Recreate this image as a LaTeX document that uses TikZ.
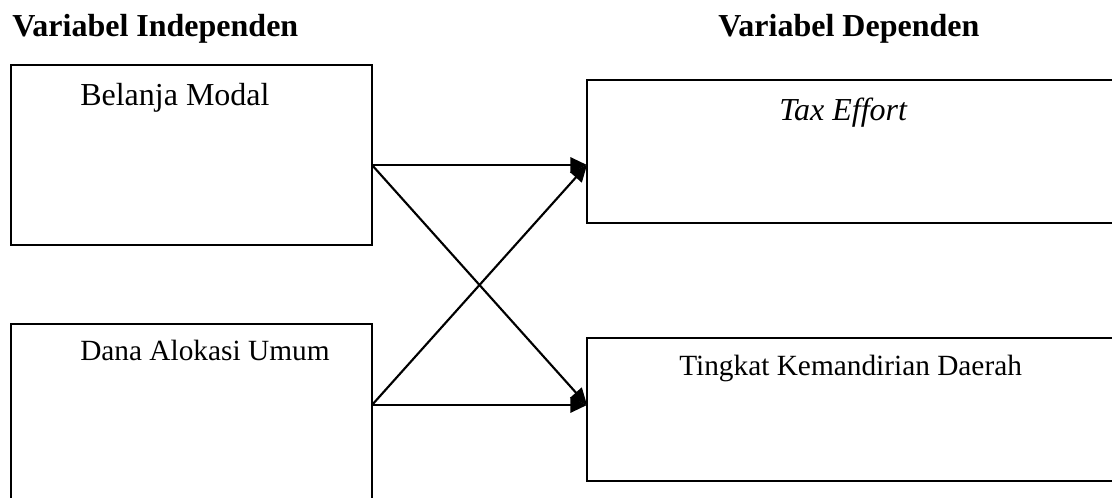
\documentclass[tikz,border=0pt]{standalone}
\usepackage{fontspec}
\setmainfont{Liberation Serif}
\usetikzlibrary{arrows.meta}
\begin{document}
\begin{tikzpicture}[x=0.75pt,y=-0.75pt,
  varbox/.style={draw,line width=1.5pt,inner sep=0pt,outer sep=0pt,anchor=north west},
  heading/.style={anchor=base west,inner sep=0pt,font=\fontsize{24}{28}\selectfont\bfseries},
  boxtext/.style={anchor=base west,inner sep=0pt,font=\fontsize{24}{28}\selectfont},
  smalltext/.style={anchor=base west,inner sep=0pt,font=\fontsize{22}{26}\selectfont},
  link/.style={line width=1.6pt,-{Triangle[length=12.5pt,width=11.5pt]}}]
\useasboundingbox (0,0) rectangle (1112,498);
\clip (0,0) rectangle (1112,498);

% column headings
\node[heading] (hind) at (12,37) {Variabel Independen};
\node[heading] (hdep) at (718,37) {Variabel Dependen};

% independent variables
\node[varbox,minimum width=270.75pt,minimum height=135pt] (bm) at (11,65) {};
\node[varbox,minimum width=270.75pt,minimum height=139.5pt] (dau) at (11,324) {};
% dependent variables
\node[varbox,minimum width=400.5pt,minimum height=107.25pt] (te) at (587,80) {};
\node[varbox,minimum width=400.5pt,minimum height=107.25pt] (tkd) at (587,338) {};

% box captions
\node[boxtext] (tbm) at (80,106) {Belanja Modal};
\node[smalltext] (tdau) at (80,361) {Dana Alokasi Umum};
\node[boxtext] (tte) at (779,121) {\itshape Tax Effort};
\node[smalltext] (ttkd) at (679,376) {Tingkat Kemandirian Daerah};

% connection points on the box edges
\path (bm.east) ++(0,10) coordinate (bmOut);
\path (dau.east) ++(0,-12) coordinate (dauOut);
\path (te.west) ++(0,13.5) coordinate (teIn);
\path (tkd.west) ++(0,-4.5) coordinate (tkdIn);

% influence arrows
\draw[link] (bmOut) -- (teIn);
\draw[link] (bmOut) -- (tkdIn);
\draw[link] (dauOut) -- (teIn);
\draw[link] (dauOut) -- (tkdIn);
\end{tikzpicture}
\end{document}
